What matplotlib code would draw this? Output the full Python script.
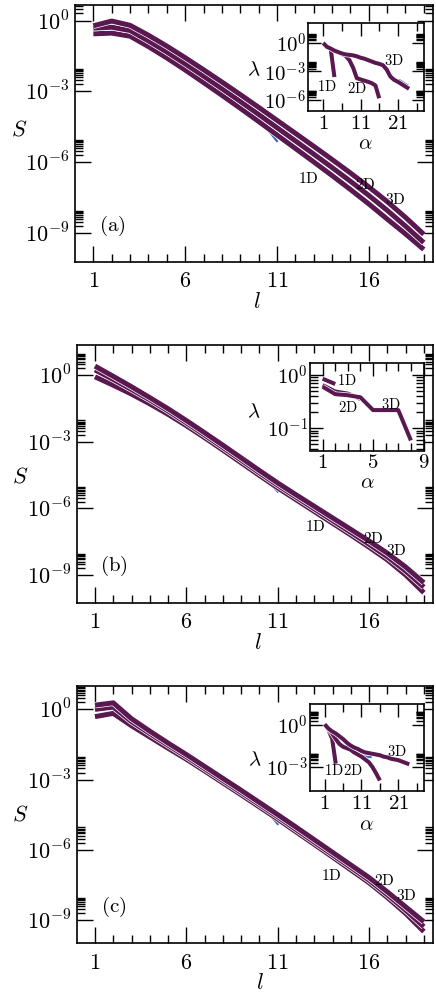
import numpy as np
import matplotlib
matplotlib.use('Agg')
import matplotlib.pyplot as plt
import matplotlib.ticker as mt
import matplotlib.patheffects as pe

plt.rcParams['mathtext.fontset'] = 'cm'
plt.rcParams['font.family'] = 'serif'
plt.rcParams['font.serif'] = ['DejaVu Serif']

# ---- main panels: log10 S vs l ----
l = [1, 2, 3, 4, 5, 6, 7, 8, 9, 10, 11, 12, 13, 14, 15, 16, 17, 18, 19]
a_3D = [-0.22, -0.02, -0.20, -0.62, -1.08, -1.57, -2.08, -2.60, -3.13, -3.67, -4.22, -4.77, -5.32, -5.88, -6.45, -7.04, -7.66, -8.33, -9.05]
a_2D = [-0.32, -0.28, -0.42, -0.86, -1.33, -1.83, -2.35, -2.88, -3.42, -3.97, -4.53, -5.09, -5.65, -6.22, -6.80, -7.40, -8.03, -8.70, -9.40]
a_1D = [-0.56, -0.53, -0.66, -1.10, -1.58, -2.09, -2.62, -3.16, -3.71, -4.27, -4.84, -5.41, -5.98, -6.56, -7.15, -7.76, -8.40, -9.03, -9.69]

b_3D = [0.40, -0.06, -0.53, -1.02, -1.52, -2.05, -2.60, -3.16, -3.73, -4.30, -4.86, -5.39, -5.91, -6.43, -6.95, -7.47, -8.02, -8.64, -9.35]
b_2D = [0.23, -0.20, -0.65, -1.12, -1.62, -2.15, -2.70, -3.26, -3.83, -4.40, -4.96, -5.49, -6.02, -6.55, -7.08, -7.62, -8.18, -8.82, -9.55]
b_1D = [-0.08, -0.46, -0.86, -1.30, -1.77, -2.28, -2.82, -3.38, -3.95, -4.52, -5.08, -5.61, -6.14, -6.67, -7.20, -7.75, -8.32, -9.00, -9.80]

c_3D = [0.18, 0.28, -0.40, -0.93, -1.44, -1.93, -2.44, -2.95, -3.46, -3.98, -4.50, -5.03, -5.57, -6.11, -6.65, -7.19, -7.80, -8.44, -9.08]
c_2D = [0.00, 0.10, -0.52, -1.03, -1.53, -2.02, -2.53, -3.04, -3.55, -4.07, -4.59, -5.13, -5.67, -6.21, -6.75, -7.30, -7.92, -8.58, -9.29]
c_1D = [-0.31, -0.17, -0.70, -1.18, -1.66, -2.13, -2.63, -3.14, -3.65, -4.17, -4.69, -5.23, -5.77, -6.31, -6.86, -7.41, -8.04, -8.72, -9.50]

# short blue pieces peeking out from under the purple curves
a_blue_l, a_blue = [10.5, 11.0], [-4.62, -5.10]
b_blue_l, b_blue = [10.5, 11.0], [-4.80, -5.25]
c_blue_l, c_blue = [10.5, 11.0], [-4.45, -4.90]

# ---- insets: log10 lambda vs alpha ----
ia_1D = [0.0, -0.3, -0.6, -3.6]
ia_2D = [0.0, -0.35, -0.55, -0.75, -0.95, -1.15, -1.35, -1.8, -2.6, -3.72, -3.85, -3.98, -4.1, -4.25, -4.5, -5.85]
ia_3D = [0.0, -0.4, -0.58, -0.8, -0.95, -1.1, -1.2, -1.25, -1.3, -1.4, -1.55, -1.65, -1.8, -1.95, -2.1, -2.2,
         -2.35, -2.8, -3.55, -3.9, -4.1, -4.35, -4.6, -4.85]
ia_blue_a, ia_blue = [21.5, 23.5], [-3.95, -4.45]

ib_1D = [-0.07, -0.17]
ib_2D = [-0.19, -0.31, -0.35, -0.45]
ib_3D = [-0.22, -0.36, -0.38, -0.42, -0.66, -0.66, -0.66, -1.23]
ib_blue_a, ib_blue = [], []

ic_1D = [0.05, -0.35, -0.95, -2.75]
ic_2D = [0.05, -0.3, -0.6, -1.0, -1.35, -1.55, -1.65, -1.75, -1.95, -2.1, -2.25, -2.45, -2.65, -3.0, -3.45, -3.95]
ic_3D = [0.05, -0.25, -0.45, -0.6, -0.8, -1.0, -1.25, -1.45, -1.6, -1.7, -1.85, -1.95, -2.0, -2.05, -2.1, -2.15,
         -2.25, -2.3, -2.4, -2.45, -2.5, -2.6, -2.7, -2.8]
ic_blue_a, ic_blue = [11.5, 13.5], [-2.22, -2.28]

purple = '#5a1850'
blue = '#2f62c4'
W, H = 436.0, 994.0


def px_axes(fig, x0, x1, ytop, ybot):
  return fig.add_axes([x0/W, 1-ybot/H, (x1-x0)/W, (ybot-ytop)/H])


def logfmt(v, p):
  return r'$10^{%d}$' % int(round(np.log10(v)))


def intfmt(v, p):
  return r'$%d$' % int(round(v))


def style(ax, exps, xmaj, xmin, maj, mnr, xpad, ypad, fs=16):
  ax.set_yscale('log')
  ax.yaxis.set_major_locator(mt.FixedLocator([10.0**k for k in exps]))
  ax.yaxis.set_minor_locator(mt.FixedLocator([j*10.0**k for k in exps for j in range(2, 10)]))
  ax.yaxis.set_major_formatter(mt.FuncFormatter(logfmt))
  ax.yaxis.set_minor_formatter(mt.NullFormatter())
  ax.xaxis.set_major_locator(mt.FixedLocator(xmaj))
  ax.xaxis.set_minor_locator(mt.FixedLocator(xmin))
  ax.xaxis.set_major_formatter(mt.FuncFormatter(intfmt))
  ax.tick_params(which='both', direction='in', top=True, right=True, width=1.0, labelsize=fs)
  ax.tick_params(which='major', length=maj)
  ax.tick_params(which='minor', length=mnr)
  ax.tick_params(axis='y', pad=ypad)
  ax.tick_params(axis='x', pad=xpad)
  for s in ax.spines.values():
    s.set_linewidth(1.2)


def curve(ax, x, logy, lw):
  ax.plot(x, 10.0**np.array(logy), color=purple, lw=lw, solid_capstyle='butt', zorder=3,
          path_effects=[pe.Stroke(linewidth=lw+1.0, foreground='white'), pe.Normal()])


fig = plt.figure(figsize=(W/100, H/100), dpi=100)

mains = [
  ((75, 433, 5, 262), (-10.22, 0.66), (a_1D, a_2D, a_3D), (a_blue_l, a_blue), '(a)',
   [(0.652, 0.323), (0.812, 0.3035), (0.894, 0.245)], (-0.156, 0.514), (0.508, -0.154)),
  ((76.7, 433, 345, 602.7), (-10.25, 1.35), (b_1D, b_2D, b_3D), (b_blue_l, b_blue), '(b)',
   [(0.669, 0.295), (0.832, 0.25), (0.898, 0.2045)], (-0.159, 0.489), (0.51, -0.158)),
  ((76.7, 433, 686, 943.3), (-10.0, 1.0), (c_1D, c_2D, c_3D), (c_blue_l, c_blue), '(c)',
   [(0.714, 0.2616), (0.863, 0.2433), (0.924, 0.185)], (-0.159, 0.499), (0.514, -0.156)),
]
insets = [
  ((308.3, 424, 23.3, 111), (-7.2, 2.1), (-3, 28), [0, -3, -6], [1, 11, 21], [6, 16, 26],
   (ia_1D, ia_2D, ia_3D), (ia_blue_a, ia_blue), [(0.164, 0.285), (0.418, 0.259), (0.735, 0.5735)],
   (-0.469, 0.4675), (0.49, -0.37)),
  ((310, 423.5, 363.3, 450.5), (-1.42, 0.22), (0, 9), [0, -1, -2], [1, 5, 9], [2, 3, 4, 6, 7, 8],
   (ib_1D, ib_2D, ib_3D), (ib_blue_a, ib_blue), [(0.323, 0.808), (0.337, 0.491), (0.711, 0.53)],
   (-0.50, 0.445), (0.505, -0.375)),
  ((310, 424, 704, 791), (-4.7, 1.5), (-3, 28), [0, -3], [1, 11, 21], [6, 16, 26],
   (ic_1D, ic_2D, ic_3D), (ic_blue_a, ic_blue), [(0.212, 0.241), (0.378, 0.241), (0.76, 0.452)],
   (-0.482, 0.356), (0.497, -0.385)),
]

for (box, ylim, series, bl, tag, labpos, spos, lpos) in mains:
  ax = px_axes(fig, *box)
  ax.plot(bl[0], 10.0**np.array(bl[1]), color=blue, lw=1.5, zorder=2)
  for s in series:
    curve(ax, l, s, 3.6)
  style(ax, [0, -3, -6, -9], [1, 6, 11, 16],
        [2, 3, 4, 5, 7, 8, 9, 10, 12, 13, 14, 15, 17, 18, 19], 11.5, 5.8, 6, 4)
  ax.set_xlim(0, 19.5)
  ax.set_ylim(10.0**ylim[0], 10.0**ylim[1])
  ax.set_ylabel(r'$S$', fontsize=16, rotation=0, ha='center', va='center')
  ax.yaxis.set_label_coords(*spos)
  ax.set_xlabel(r'$l$', fontsize=16, va='center')
  ax.xaxis.set_label_coords(*lpos)
  for name, (xf, yf) in zip(['1D', '2D', '3D'], labpos):
    ax.text(xf, yf, r'$\mathrm{%s}$' % name, transform=ax.transAxes, fontsize=11,
            ha='center', va='center', zorder=4)
  ax.text(0.105, 0.142, r'$\mathrm{%s}$' % tag, transform=ax.transAxes, fontsize=15,
          ha='center', va='center')

for (box, ylim, xlim, exps, xmaj, xmin, series, bl, labpos, lampos, alpos) in insets:
  ax = px_axes(fig, *box)
  if bl[0]:
    ax.plot(bl[0], 10.0**np.array(bl[1]), color=blue, lw=1.5, zorder=2)
  for s in series:
    curve(ax, np.arange(1, len(s)+1), s, 2.9)
  style(ax, exps, xmaj, xmin, 9, 6, 2, 1.5, fs=15)
  ax.set_xlim(*xlim)
  ax.set_ylim(10.0**ylim[0], 10.0**ylim[1])
  ax.set_ylabel(r'$\lambda$', fontsize=15, rotation=0, ha='center', va='center')
  ax.yaxis.set_label_coords(*lampos)
  ax.set_xlabel(r'$\alpha$', fontsize=15, va='center')
  ax.xaxis.set_label_coords(*alpos)
  for name, (xf, yf) in zip(['1D', '2D', '3D'], labpos):
    ax.text(xf, yf, r'$\mathrm{%s}$' % name, transform=ax.transAxes, fontsize=10.5,
            ha='center', va='center', zorder=4)

fig.savefig('out.png', dpi=100)
